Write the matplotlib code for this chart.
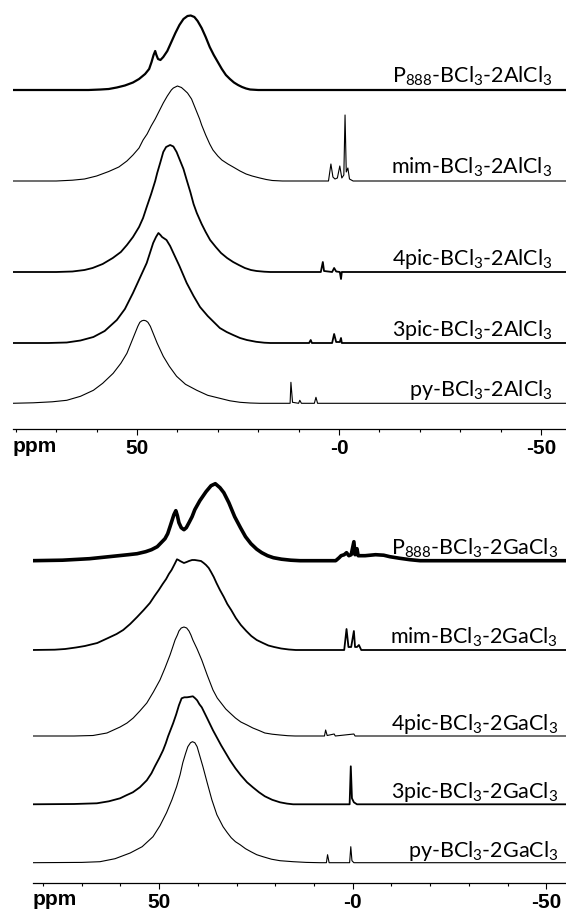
import numpy as np
import matplotlib
matplotlib.use("Agg")
import matplotlib.pyplot as plt
from matplotlib.ticker import MultipleLocator

plt.rcParams['font.family'] = ['Lato', 'DejaVu Sans']
plt.rcParams['mathtext.fontset'] = 'custom'
plt.rcParams['mathtext.rm'] = 'Lato'
plt.rcParams['mathtext.it'] = 'Lato:italic'
plt.rcParams['mathtext.bf'] = 'Lato:bold'

############### data: (ppm, intensity) pairs ###############

# --- BCl3 / AlCl3 ---
p888_al = [(81, 0), (62, 0), (59, 0.5), (57, 1), (55, 2.5), (53, 4.5), (51, 7.5), (49.5, 11),
           (48, 16), (47, 21), (46.4, 28), (45.9, 35), (45.5, 39), (45.2, 35), (44.8, 31),
           (44.2, 30), (43.5, 33), (42.5, 39), (41.5, 48), (40.5, 57), (39.5, 65), (38.5, 71),
           (37.5, 74), (36.7, 74.5), (35.8, 73), (35, 69), (34, 62), (33, 53), (32, 43),
           (31, 35), (30, 28), (29, 21), (28, 15), (27, 11), (26, 7.5), (25, 5), (24, 3),
           (23, 1.5), (22, 0.5), (20, 0), (-57, 0)]

mim_al = [(81, 0), (70, 0), (66, 0.8), (63, 2), (60, 5), (57, 9.5), (54.5, 14), (52.5, 20),
          (51, 26), (49.5, 33), (48.5, 41), (47.5, 47), (46.5, 55), (45.5, 62), (44.5, 70),
          (43.5, 78), (42.5, 85), (41.5, 91), (41, 93), (40, 95), (39, 93.5), (38.3, 91),
          (37.5, 88), (36.5, 82), (35.5, 72), (34.5, 62), (34, 56), (33, 46), (32, 37),
          (31.2, 31), (30, 25), (29, 21), (27.5, 17), (26.2, 14), (24.5, 10), (23, 7),
          (21.5, 5), (19.6, 3), (18, 1.5), (16.5, 0.5), (14, 0), (2.6, 0), (2.0, 17),
          (1.5, 4), (1.0, 2), (0.4, 3), (-0.2, 15), (-0.7, 3), (-1.2, 6), (-1.5, 66),
          (-1.8, 9), (-2.2, 13), (-2.6, 2), (-3.5, 0), (-57, 0)]

pic4_al = [(81, 0), (70, 0), (66, 0.5), (63, 2), (61, 4), (58.5, 8), (56, 14), (54, 20),
           (52.5, 27), (51, 35), (49.5, 45), (48.5, 54), (47.6, 65), (46.5, 78), (45.5, 91),
           (45, 99), (44.2, 110), (43.5, 120), (42.8, 125), (41.8, 127), (41, 125.5),
           (40.2, 120), (39.5, 113), (38.5, 103), (37.7, 92), (36.8, 80), (36, 68),
           (35.2, 59), (34, 48), (33, 40), (31.9, 32), (30.5, 25), (29.2, 19), (27.7, 14),
           (26.2, 10), (24.8, 7), (23.3, 4), (21.8, 2), (20.4, 1), (18.5, 0.3), (17, 0),
           (4.5, 0), (4.0, 10), (3.7, 1), (1.7, 0), (1.2, 4), (0.7, 0.5), (-0.2, 0),
           (-0.5, -7), (-0.7, 0), (-57, 0)]

pic3_al = [(81, 0), (72, 0), (67.4, 0.5), (64, 2.5), (60.8, 6), (58, 12), (55, 23), (53, 34),
           (51, 50), (49.3, 65), (47.6, 80), (46.8, 90), (46, 100), (45.3, 106), (44.7, 110),
           (44.2, 108), (43.8, 106), (42.7, 103), (41.8, 97), (41, 90), (39.5, 77),
           (37.7, 60), (36, 47), (34.4, 36), (32.5, 27), (31, 21), (29.5, 15), (27.8, 11),
           (26.2, 8), (24.5, 5), (22.8, 3), (20.5, 1.2), (18.5, 0.3), (17, 0), (7.4, 0),
           (7.0, 3), (6.7, 0), (1.7, 0), (1.2, 9), (0.7, 1), (-0.2, 1), (-0.5, 5),
           (-0.7, 0), (-57, 0)]

py_al = [(81, 0), (75.7, 0.5), (71, 1.5), (67.4, 3), (64, 7), (60.8, 13), (58.5, 20),
         (55.9, 30), (54, 40), (52.5, 50), (51.5, 60), (50.5, 70), (49.8, 77), (49.3, 81),
         (48.8, 82.5), (48.3, 83), (47.8, 82.5), (47.3, 81), (46.7, 77), (46, 70), (45, 60),
         (43.5, 47), (42, 37), (40.2, 27), (38, 19), (35.2, 13), (32.5, 8), (29.5, 5),
         (27, 2.5), (24.5, 1), (22, 0.3), (19.6, 0), (12.1, 0), (11.9, 21), (11.5, 1),
         (10.0, 0), (9.7, 3), (9.3, 0), (6.1, 0), (5.7, 6), (5.3, 0), (-57, 0)]

# --- BCl3 / GaCl3 ---
p888_ga = [(83, 0), (75, 0.5), (68, 2), (63, 4), (58, 6), (55.7, 7), (53.5, 9), (52, 11),
           (50.5, 14), (49.5, 18), (48.5, 22), (47.8, 27), (47.2, 34), (46.7, 40), (46.2, 46),
           (45.7, 50), (45.3, 45), (44.9, 38), (44.3, 33), (43.6, 31), (43, 33), (42.3, 38),
           (41.5, 44), (40.8, 51), (39.5, 60), (37.9, 69), (36.6, 75), (35.5, 77), (34.3, 73),
           (33.3, 68), (32, 58), (30.5, 44), (29, 33), (27.7, 24), (26.3, 17), (24.8, 11.5),
           (23.5, 8), (22, 5), (20.5, 3), (18.4, 1.5), (16, 0.5), (13.6, 0), (4.4, 0),
           (3.5, 3), (3.0, 5), (2.2, 6), (1.6, 8), (1.0, 5), (0.4, 6), (-0.3, 19), (-0.6, 6),
           (-1.1, 12), (-1.4, 5), (-3.2, 5), (-5.9, 6), (-8, 5.5), (-9.6, 4), (-12, 2.5),
           (-14.8, 1), (-17.4, 0), (-56, 0)]

mim_ga = [(83, 0), (77, 0.3), (74.3, 1), (71.5, 2.5), (69.2, 4), (66, 7), (63.2, 12), (61, 16),
          (59.3, 20), (57.5, 26), (55.7, 33), (54, 40), (52.4, 47), (51.2, 54), (50.1, 60),
          (49.1, 66), (48.2, 71), (47.5, 76), (46.8, 80), (46, 86), (45.4, 90.7), (45, 90),
          (44.6, 89), (44.1, 88), (43.6, 87), (42.9, 88), (42.3, 89), (41.5, 90), (40.8, 90),
          (40, 89.5), (39.2, 89), (38.5, 87), (37.9, 85), (37.2, 82), (36.6, 78), (35.9, 73),
          (35.2, 67), (34.3, 60), (33.3, 53), (32.4, 46), (31.4, 40), (30.2, 32), (28.9, 25),
          (27.5, 19), (26.2, 14), (24.8, 10), (23.2, 7), (21.8, 4.5), (20.3, 3), (18.5, 1.5),
          (16.5, 0.5), (14.7, 0), (2.2, 0), (1.6, 21), (1.1, 3), (0.4, 3), (-0.3, 19),
          (-0.6, 3), (-1.1, 3), (-1.6, 5), (-2.2, 0), (-56, 0)]

pic4_ga = [(83, 0), (72, 0), (67.1, 0.5), (63.5, 3), (60.1, 9), (58.3, 13), (56.7, 18),
           (55, 25), (53.2, 33), (51.5, 44), (49.8, 56), (48.5, 68), (47.2, 81), (46.5, 89),
           (45.9, 96), (45.3, 101), (44.9, 105), (44.3, 108), (43.6, 109), (42.9, 108),
           (42.3, 105), (41.8, 101), (41.3, 96), (40.2, 87), (39.0, 76), (37.6, 61),
           (36.1, 46), (35, 38), (34.0, 33), (32.8, 27), (31.7, 23), (30.3, 18), (28.9, 14),
           (27.3, 11), (25.8, 8), (24.2, 5.5), (22.7, 3), (20.8, 1.8), (18.8, 1), (16.8, 0.3),
           (14.9, 0), (7.3, 0), (7.0, 6), (6.6, 0.5), (4.8, 2), (4.5, 0), (-0.3, 2),
           (-0.6, 0), (-56, 0)]

pic3_ga = [(83, 0), (72, 0.3), (66.1, 1), (63, 3), (60.1, 6), (58.5, 9), (56.8, 12), (55, 17),
           (53.2, 24), (52, 31), (51.1, 38), (50, 46), (49.0, 54), (48.3, 61), (47.7, 68),
           (47, 75), (46.4, 81), (45.6, 90), (44.9, 99), (44.5, 103), (44.2, 106), (43.5, 107),
           (42.8, 107), (42, 107.5), (41.3, 108), (40.7, 106), (40.2, 104), (39.6, 100),
           (39.0, 97), (37.6, 86), (36.1, 74), (34.0, 59), (31.7, 44), (30.3, 36), (28.9, 29),
           (27.3, 22), (25.8, 17), (24.2, 12), (22.7, 8), (20.8, 4.5), (18.8, 2), (17, 0.7),
           (15.4, 0), (0.8, 0), (0.5, 38), (0.2, 6), (-0.3, 2), (-1.1, 0), (-56, 0)]

py_ga = [(83, 0), (70, 0.3), (65.3, 1), (61.4, 4), (57.5, 9.7), (54.4, 16), (51.6, 26),
         (49.8, 37), (48.1, 50), (46.7, 63), (45.5, 76), (44.6, 88), (43.9, 100), (43.2, 109),
         (42.6, 116), (41.9, 120), (41.4, 121), (40.8, 120), (40.2, 116), (39.6, 108),
         (38.7, 96), (37.6, 80), (36.4, 63), (35.1, 48), (33.5, 36), (32.4, 30), (31.4, 25),
         (30.3, 21), (29.1, 18), (27.7, 14), (26.3, 11), (24.8, 8), (23.2, 6), (21, 3.5),
         (18.8, 2), (15.4, 1), (12, 0.3), (8.4, 0), (6.8, 0), (6.5, 8), (6.1, 0), (0.8, 0),
         (0.5, 16), (0.2, 2), (-0.3, 0), (-56, 0)]

labels_al = [r"P$_{888}$-BCl$_3$-2AlCl$_3$", r"mim-BCl$_3$-2AlCl$_3$", r"4pic-BCl$_3$-2AlCl$_3$",
             r"3pic-BCl$_3$-2AlCl$_3$", r"py-BCl$_3$-2AlCl$_3$"]
labels_ga = [r"P$_{888}$-BCl$_3$-2GaCl$_3$", r"mim-BCl$_3$-2GaCl$_3$", r"4pic-BCl$_3$-2GaCl$_3$",
             r"3pic-BCl$_3$-2GaCl$_3$", r"py-BCl$_3$-2GaCl$_3$"]

tick_pos = [50, 0, -50]
tick_lab = ["50", "-0", "-50"]

############### layout ###############
W, H = 566, 913
fig = plt.figure(figsize=(W / 100, H / 100), dpi=100)


def panel(rect, ylim, xlim):
    ax = fig.add_axes(rect)
    ax.set_xlim(*xlim)
    ax.set_ylim(0, ylim)
    for s in ["top", "left", "right"]:
        ax.spines[s].set_visible(False)
    ax.spines["bottom"].set_linewidth(0.9)
    ax.set_yticks([])
    ax.set_xticks(tick_pos)
    ax.set_xticklabels(tick_lab)
    ax.xaxis.set_minor_locator(MultipleLocator(10))
    ax.tick_params(axis="x", which="major", length=4.5, width=0.8, pad=3,
                   labelsize=15)
    ax.tick_params(axis="x", which="minor", length=2.5, width=0.8)
    for t in ax.get_xticklabels():
        t.set_family("Liberation Sans")
        t.set_fontweight("bold")
    ax.annotate("ppm", xy=(0, 0), xycoords="axes fraction", xytext=(0, -17),
                textcoords="offset pixels", ha="left", va="center",
                fontsize=15, fontweight="bold", family="Liberation Sans")
    return ax


def draw(ax, spectra, offsets, widths, labels, xlab, dy):
    for sp, o, lw, lab in zip(spectra, offsets, widths, labels):
        x, y = zip(*sp)
        ax.plot(x, np.array(y) + o, color="black", lw=lw, solid_joinstyle="round")
        ax.text(xlab, o + dy, lab, transform=ax.get_yaxis_transform(), ha="right",
                va="baseline", fontsize=15.5)


# top panel : AlCl3
ax1 = panel([12.6 / W, (H - 429) / H, (W - 12.6) / W, 429 / H], 429, (80.8, -56.2))
draw(ax1, [p888_al, mim_al, pic4_al, pic3_al, py_al],
     [339, 248, 157, 86, 25.7], [1.6, 0.8, 1.3, 1.3, 0.8], labels_al, 0.975, 7)

# bottom panel : GaCl3
ax2 = panel([33 / W, (H - 882.7) / H, (W - 33) / W, 417.7 / H], 417.7, (82.6, -55.1))
draw(ax2, [p888_ga, mim_ga, pic4_ga, pic3_ga, py_ga],
     [322, 232.7, 146.7, 78.4, 20], [2.6, 1.3, 0.8, 1.3, 0.8], labels_ga, 0.985, 6)

plt.savefig("out.png", dpi=100)
